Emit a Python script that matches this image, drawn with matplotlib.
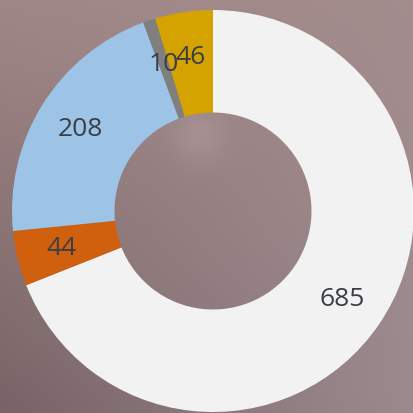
import numpy as np
import matplotlib.pyplot as plt

# 数据
values = [685, 44, 208, 10, 46]
colors = ['#F2F2F2', '#D0600E', '#9DC3E6', '#7F7F7F', '#D4A300']
total = sum(values)

fig = plt.figure(figsize=(4.13, 4.14), dpi=100)
ax = fig.add_axes([0, 0, 1, 1])

# 模糊背景 (双线性渐变)
yy, xx = np.mgrid[0:1:200j, 0:1:200j]
c_tl = np.array([0.63, 0.53, 0.53])
c_tr = np.array([0.64, 0.55, 0.55])
c_bl = np.array([0.47, 0.39, 0.40])
c_br = np.array([0.61, 0.54, 0.56])
x3, y3 = xx[..., None], yy[..., None]
bg = (c_tl * (1 - x3) * (1 - y3) + c_tr * x3 * (1 - y3)
      + c_bl * (1 - x3) * y3 + c_br * x3 * y3)
blob = np.exp(-(((xx - 0.48) ** 2 + (yy - 0.33) ** 2) / 0.004))
bg = bg + 0.05 * blob[..., None]
ax.imshow(np.clip(bg, 0, 1), extent=[-213 / 201, 200 / 201, -202 / 201, 212 / 201],
          aspect='auto', zorder=0)

wedges, texts, autotexts = ax.pie(
    values, colors=colors, startangle=90, counterclock=False, radius=1,
    wedgeprops=dict(width=0.51, edgecolor='none'),
    autopct=lambda p: '{}'.format(int(round(p * total / 100))),
    pctdistance=0.775,
    textprops=dict(color='#3A3F47', fontsize=19, family=['Open Sans', 'DejaVu Sans']))

ax.set_xlim(-213 / 201, 200 / 201)
ax.set_ylim(-202 / 201, 212 / 201)
ax.set_aspect('equal')
ax.axis('off')

fig.savefig('out.png', dpi=100)
